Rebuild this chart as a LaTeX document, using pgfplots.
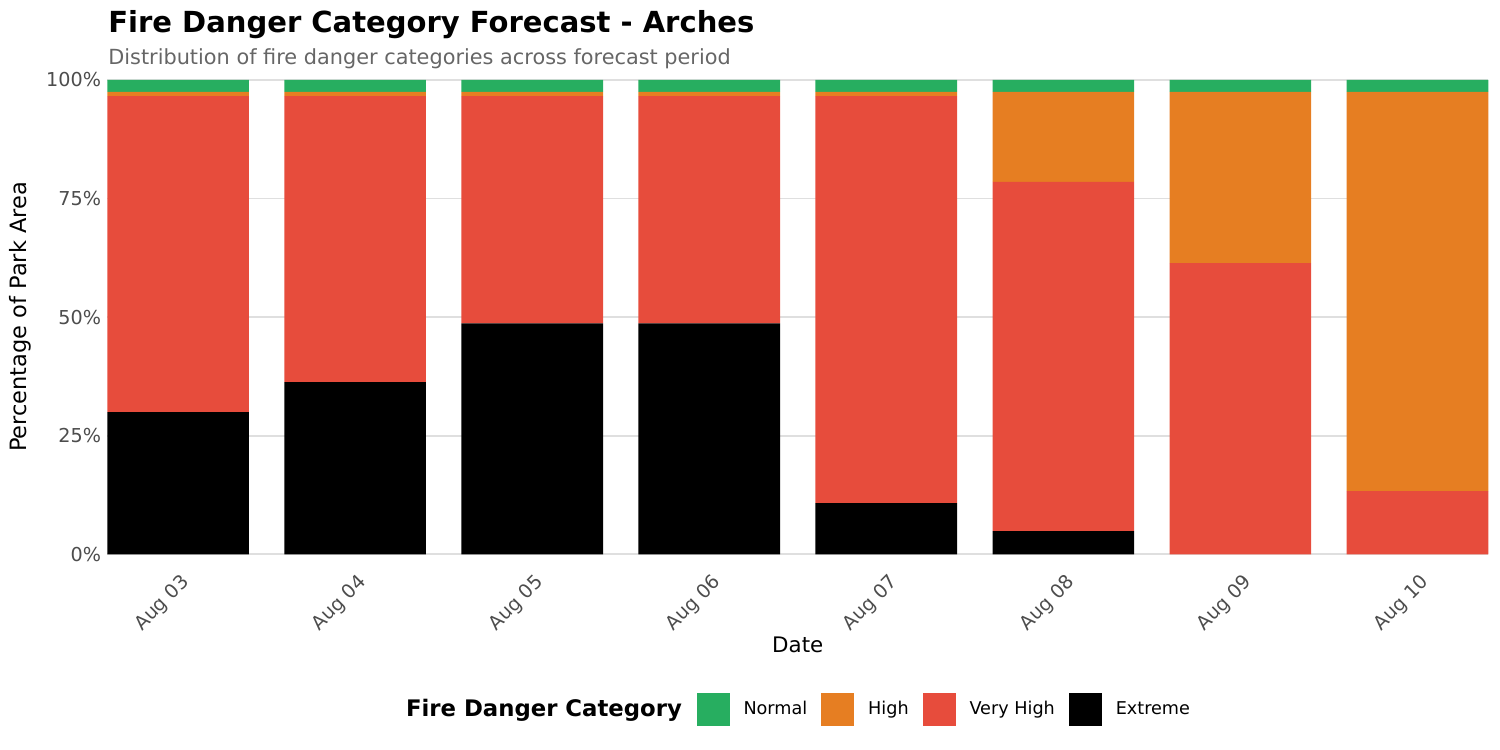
\documentclass[border=0pt]{standalone}
\usepackage{pgfplots}
\pgfplotsset{compat=1.18}
\usepackage{fontspec}
\setmainfont{DejaVu Sans}

\definecolor{cNormal}{HTML}{27AE60}
\definecolor{cHigh}{HTML}{E67E22}
\definecolor{cVHigh}{HTML}{E74C3C}
\definecolor{cExtreme}{HTML}{000000}
\definecolor{gridgray}{HTML}{DFDFDF}
\definecolor{ticktext}{HTML}{4D4D4D}
\definecolor{subgray}{HTML}{666666}

\pgfplotsset{
    sqkey/.style={legend image code/.code={\fill[##1] (0pt,-11.9pt) rectangle (23.8pt,11.9pt);}},
}

\begin{document}
\begin{tikzpicture}
% page frame: 1500 x 750 px at 0.72pt per px
\useasboundingbox (0,0) rectangle (1080pt,540pt);

\begin{axis}[
    at={(77.26pt,140.9pt)}, anchor=south west,
    scale only axis,
    width=994.3pt, height=341.5pt,
    ybar stacked,
    bar width=0.8,
    xmin=-0.4, xmax=7.4,
    ymin=0, ymax=100,
    axis line style={draw=none},
    major tick length=0pt,
    ytick={0,25,50,75,100},
    yticklabels={0\%,25\%,50\%,75\%,100\%},
    xtick={0,...,7},
    xticklabels={Aug 03,Aug 04,Aug 05,Aug 06,Aug 07,Aug 08,Aug 09,Aug 10},
    yticklabel style={font=\fontsize{13.8}{16}\selectfont, text=ticktext, xshift=-1pt},
    xticklabel style={font=\fontsize{13.8}{16}\selectfont, text=ticktext, rotate=45, anchor=north east, xshift=-5pt, yshift=-7pt},
    ymajorgrids,
    grid style={gridgray, line width=1.2pt},
    legend columns=-1,
    reverse legend,
    legend style={
        at={(axis description cs:0.4267,-0.3266)}, anchor=west,
        draw=none, fill=none,
        inner sep=0pt, outer sep=0pt,
        nodes={inner sep=0pt},
        font=\fontsize{12.7}{15}\selectfont,
        /tikz/every odd column/.append style={column sep=10pt},
        /tikz/every even column/.append style={column sep=10pt},
    },
]
\addplot[fill=cExtreme, draw=none, sqkey] coordinates {(0,30.0) (1,36.3) (2,48.7) (3,48.7) (4,10.8) (5,4.9) (6,0) (7,0)};
\addplot[fill=cVHigh, draw=none, sqkey] coordinates {(0,66.6) (1,60.3) (2,47.9) (3,47.9) (4,85.8) (5,73.6) (6,61.4) (7,13.3)};
\addplot[fill=cHigh, draw=none, sqkey] coordinates {(0,0.9) (1,0.9) (2,0.9) (3,0.9) (4,0.9) (5,19.0) (6,36.1) (7,84.2)};
\addplot[fill=cNormal, draw=none, sqkey] coordinates {(0,2.5) (1,2.5) (2,2.5) (3,2.5) (4,2.5) (5,2.5) (6,2.5) (7,2.5)};
\legend{Extreme,Very High,High,Normal}
\end{axis}

% titles
\node[anchor=base west, inner sep=0pt, font=\fontsize{20.9}{25}\selectfont\bfseries] at (77.8pt,516.7pt) {Fire Danger Category Forecast - Arches};
\node[anchor=base west, inner sep=0pt, text=subgray, font=\fontsize{15}{18}\selectfont] at (77.8pt,493.7pt) {Distribution of fire danger categories across forecast period};
% axis titles
\node[anchor=base, rotate=90, inner sep=0pt, font=\fontsize{16.2}{19}\selectfont] at (19.2pt,311.8pt) {Percentage of Park Area};
\node[anchor=base, inner sep=0pt, font=\fontsize{15.4}{18}\selectfont] at (574.4pt,70.4pt) {Date};
% legend title
\node[anchor=base west, inner sep=0pt, font=\fontsize{16.4}{19}\selectfont\bfseries] at (292.2pt,24pt) {Fire Danger Category};
\end{tikzpicture}
\end{document}
